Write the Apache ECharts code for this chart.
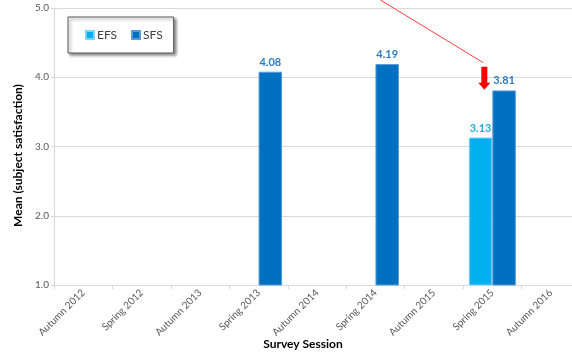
<!DOCTYPE html>
<html>
<head>
<meta charset="utf-8">
<style>
  html, body { margin: 0; padding: 0; background: #fff; }
  #chart { width: 572px; height: 352px; }
</style>
<script src="https://cdn.jsdelivr.net/npm/echarts@6/dist/echarts.min.js"></script>
</head>
<body>
<div id="chart"></div>
<script>
// Survey sessions along the x axis
const sessions = ['Autumn 2012', 'Spring 2012', 'Autumn 2013', 'Spring 2013', 'Autumn 2014',
                  'Spring 2014', 'Autumn 2015', 'Spring 2015', 'Autumn 2016'];
// Mean subject satisfaction per session (null = no survey)
const efsValues = [null, null, null, null, null, null, null, 3.13, null];
const sfsValues = [null, null, null, 4.08, null, 4.19, null, 3.81, null];
const seriesNames = ['EFS', 'SFS'];
const yTicks = { min: 1, max: 5, interval: 1 };

const FONT = 'Lato, "Open Sans", sans-serif';
const chart = echarts.init(document.getElementById('chart'), null, { renderer: 'canvas' });

function barSeries(name, data, color, border, labelColor) {
  return {
    name: name,
    type: 'bar',
    data: data,
    barGap: '0%',
    barCategoryGap: '19.5%',
    itemStyle: { color: color, borderColor: border, borderWidth: 1 },
    label: {
      show: true,
      position: 'top',
      distance: 4,
      color: labelColor,
      fontFamily: FONT,
      fontWeight: 'bold',
      fontSize: 11,
      formatter: p => p.value == null ? '' : Number(p.value).toFixed(2)
    }
  };
}

chart.setOption({
  animation: false,
  textStyle: { fontFamily: FONT },
  grid: { left: 54, top: 8, width: 526, bottom: 67, containLabel: false, outerBoundsMode: 'none' },
  legend: {
    data: seriesNames,
    left: 68,
    top: 17,
    orient: 'horizontal',
    icon: 'rect',
    itemWidth: 8,
    itemHeight: 8,
    itemGap: 14,
    padding: [11, 11, 11, 17],
    backgroundColor: '#fff',
    borderColor: '#595959',
    borderWidth: 1,
    shadowColor: 'rgba(0,0,0,0.45)',
    shadowBlur: 3,
    shadowOffsetX: 2,
    shadowOffsetY: 2,
    textStyle: { fontFamily: FONT, fontSize: 12, lineHeight: 14, color: '#404040', padding: [0, 0, 0, -2] }
  },
  xAxis: {
    type: 'category',
    data: sessions,
    name: 'Survey Session',
    nameLocation: 'middle',
    nameGap: 53,
    nameMoveOverlap: false,
    nameTextStyle: { fontFamily: FONT, fontWeight: 'bold', fontSize: 12, color: '#000', padding: [0, 28, 0, 0] },
    axisLine: { lineStyle: { color: '#d9d9d9', width: 1 } },
    axisTick: { show: true, length: 4, lineStyle: { color: '#d9d9d9' } },
    axisLabel: { interval: 0, rotate: 45, margin: 6, fontSize: 10, color: '#595959', fontFamily: FONT }
  },
  yAxis: {
    type: 'value',
    min: yTicks.min,
    max: yTicks.max,
    interval: yTicks.interval,
    name: 'Mean (subject satisfaction)',
    nameLocation: 'middle',
    nameGap: 30,
    nameMoveOverlap: false,
    nameTextStyle: { fontFamily: FONT, fontWeight: 'bold', fontSize: 12, color: '#000', padding: [0, 18, 0, 0] },
    axisLine: { show: true, lineStyle: { color: '#d9d9d9', width: 1 } },
    axisTick: { show: true, length: 3, lineStyle: { color: '#d9d9d9' } },
    axisLabel: { fontSize: 10, color: '#595959', margin: 5, fontFamily: FONT,
                 formatter: v => v.toFixed(1) },
    splitLine: { lineStyle: { color: '#d9d9d9', width: 1 } }
  },
  series: [
    barSeries(seriesNames[0], efsValues, '#00b0f0', '#7fd3f4', '#1fb0e8'),
    barSeries(seriesNames[1], sfsValues, '#0070c0', '#5b9bd5', '#2e7cc4')
  ]
});

// Red callout: a thin leader line ending above the Spring 2015 bars and a down arrow
const at = (cat, val) => chart.convertToPixel({ gridIndex: 0 }, [cat, val]);
const leaderEnd = at('Spring 2015', 4.21);
const leaderStart = at('Spring 2014', 5.115);
const arrowX = leaderEnd[0] - 8;
const arrowTop = at('Spring 2015', 4.15)[1];
const arrowNeck = at('Spring 2015', 3.92)[1];
const arrowTip = at('Spring 2015', 3.82)[1];

chart.setOption({
  graphic: [
    {
      type: 'line',
      shape: { x1: leaderStart[0] + 5, y1: leaderStart[1], x2: arrowX - 1, y2: leaderEnd[1] },
      style: { stroke: '#ff4040', lineWidth: 1 },
      z: 100
    },
    {
      type: 'polygon',
      shape: {
        points: [
          [arrowX - 3, arrowTop], [arrowX + 3, arrowTop], [arrowX + 3, arrowNeck], [arrowX + 6, arrowNeck],
          [arrowX, arrowTip], [arrowX - 6, arrowNeck], [arrowX - 3, arrowNeck]
        ]
      },
      style: { fill: '#ff0000' },
      z: 100
    }
  ]
});
</script>
</body>
</html>
